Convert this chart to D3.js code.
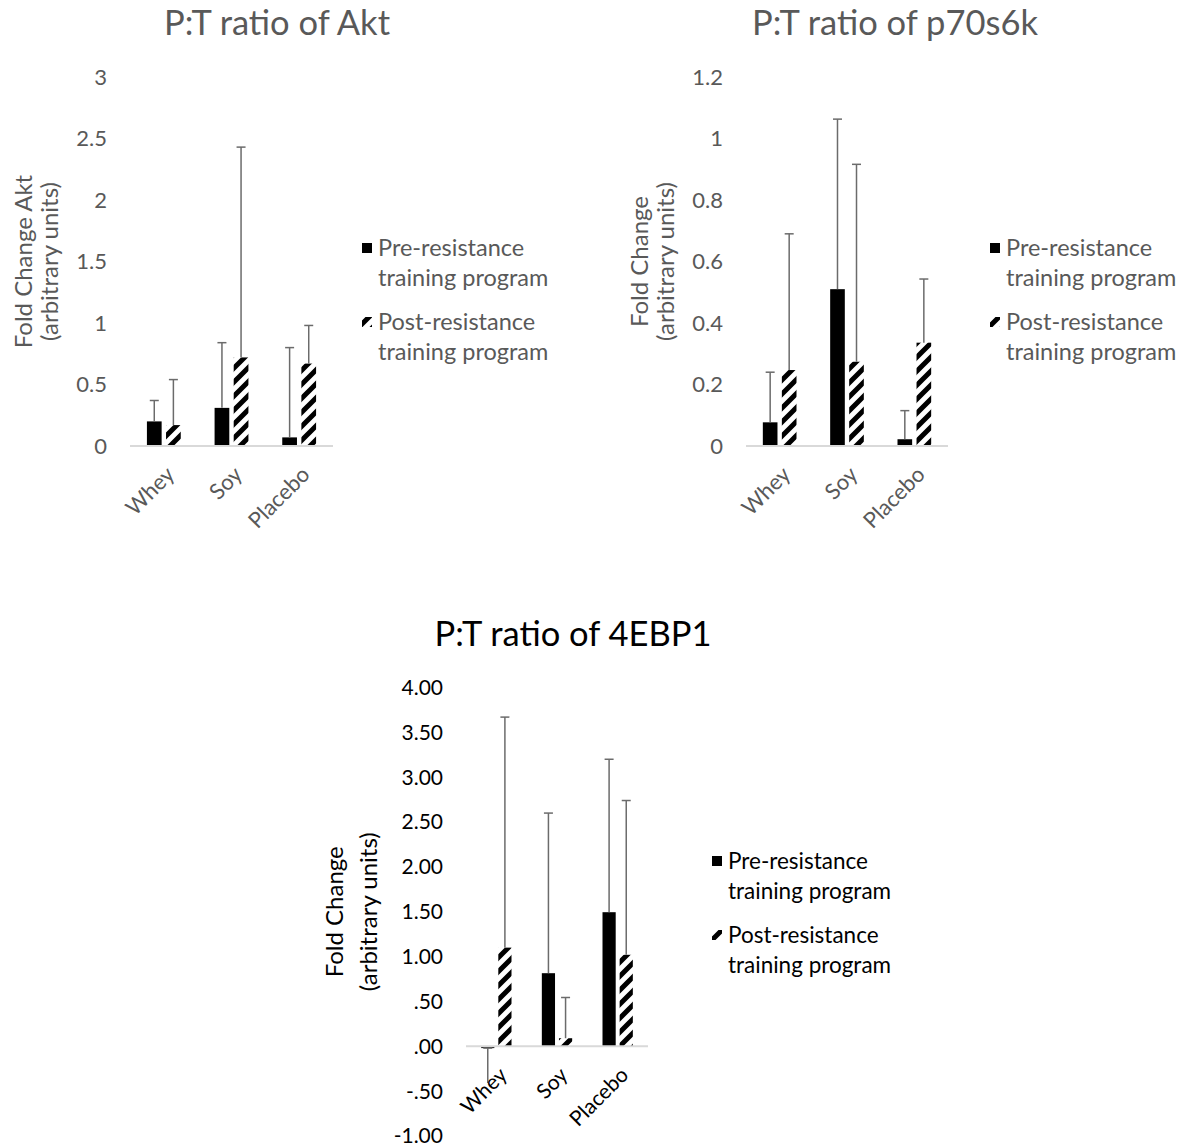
<!DOCTYPE html>
<html>
<head>
<meta charset="utf-8">
<script src="https://cdn.jsdelivr.net/npm/d3@7"></script>
<style>
  body { margin: 0; background: #fff; }
  text { font-family: Lato, "Open Sans", sans-serif; }
</style>
</head>
<body>
<div id="chart"></div>
<script>
var categories = ["Whey", "Soy", "Placebo"];
var legendLines = [["Pre-resistance", "training program"], ["Post-resistance", "training program"]];

// Akt
var aktPre = [0.20, 0.31, 0.07];
var aktPost = [0.17, 0.72, 0.67];
var aktPreSD = [0.17, 0.53, 0.73];
var aktPostSD = [0.37, 1.71, 0.31];
var aktTicks = [0, 0.5, 1, 1.5, 2, 2.5, 3];
var aktTickLabels = ["0", "0.5", "1", "1.5", "2", "2.5", "3"];

// p70s6k
var p70Pre = [0.077, 0.51, 0.022];
var p70Post = [0.247, 0.274, 0.336];
var p70PreSD = [0.163, 0.553, 0.093];
var p70PostSD = [0.443, 0.642, 0.207];
var p70Ticks = [0, 0.2, 0.4, 0.6, 0.8, 1, 1.2];
var p70TickLabels = ["0", "0.2", "0.4", "0.6", "0.8", "1", "1.2"];

// 4EBP1
var ebpPre = [-0.02, 0.815, 1.495];
var ebpPost = [1.10, 0.09, 1.02];
var ebpPreSD = [0.39, 1.785, 1.705];
var ebpPostSD = [2.57, 0.454, 1.72];
var ebpTicks = [-1, -0.5, 0, 0.5, 1, 1.5, 2, 2.5, 3, 3.5, 4];
var ebpTickLabels = ["-1.00", "-.50", ".00", ".50", "1.00", "1.50", "2.00", "2.50", "3.00", "3.50", "4.00"];

var svg = d3.select("#chart").append("svg")
    .attr("width", 1181)
    .attr("height", 1148);

var defs = svg.append("defs");
var pat = defs.append("pattern")
    .attr("id", "hatch")
    .attr("patternUnits", "userSpaceOnUse")
    .attr("width", 14)
    .attr("height", 14);
pat.append("rect").attr("width", 14).attr("height", 14).attr("fill", "#fff");
pat.append("path")
    .attr("d", "M-3.5,3.5 L3.5,-3.5 M0,14 L14,0 M10.5,17.5 L17.5,10.5")
    .attr("stroke", "#000")
    .attr("stroke-width", 5);

function drawChart(o) {
  var g = svg.append("g");
  var y = d3.scaleLinear().domain(o.domain).range([o.bottom, o.top]);
  var x0 = d3.scaleBand().domain(categories).range([o.left, o.right])
      .paddingInner(0.5).paddingOuter(0.25);
  var x1 = d3.scaleBand().domain(["pre", "post"]).range([0, x0.bandwidth()])
      .paddingInner(0.23);

  // title
  g.append("text")
      .attr("x", o.titleX).attr("y", o.titleY)
      .attr("text-anchor", "middle")
      .attr("font-size", o.titleSize)
      .attr("fill", o.color)
      .text(o.title);

  // y tick labels
  g.selectAll(".tick").data(o.ticks).enter().append("text")
      .attr("x", o.left - 23)
      .attr("y", function(d) { return y(d); })
      .attr("dy", "0.35em")
      .attr("text-anchor", "end")
      .attr("font-size", o.tickSize)
      .attr("fill", o.color)
      .text(function(d, i) { return o.tickLabels[i]; });

  // y axis title
  o.yTitle.forEach(function(t, i) {
    g.append("text")
        .attr("transform", "translate(" + o.yTitleX[i] + "," + (y(o.domain[0]) + y(o.domain[1])) / 2 + ") rotate(-90)")
        .attr("text-anchor", "middle")
        .attr("font-size", o.yTitleSize)
        .attr("fill", o.color)
        .text(t);
  });

  // bars
  var rows = [];
  categories.forEach(function(c, i) {
    rows.push({cat: c, s: "pre", v: o.pre[i], sd: o.preSD[i]});
    rows.push({cat: c, s: "post", v: o.post[i], sd: o.postSD[i]});
  });
  g.selectAll(".bar").data(rows).enter().append("rect")
      .attr("x", function(d) { return x0(d.cat) + x1(d.s); })
      .attr("y", function(d) { return y(Math.max(d.v, 0)); })
      .attr("width", x1.bandwidth())
      .attr("height", function(d) { return Math.abs(y(d.v) - y(0)); })
      .attr("fill", function(d) { return d.s == "pre" ? "#000" : "url(#hatch)"; });

  // baseline
  g.append("line")
      .attr("x1", o.left).attr("x2", o.right)
      .attr("y1", y(0)).attr("y2", y(0))
      .attr("stroke", "#d9d9d9").attr("stroke-width", 2);

  // error bars
  rows.forEach(function(d) {
    var cx = x0(d.cat) + x1(d.s) + x1.bandwidth() / 2;
    var end = d.v + (d.v < 0 ? -d.sd : d.sd);
    var capY = y(Math.max(d.v, end));
    g.append("line")
        .attr("x1", cx).attr("x2", cx)
        .attr("y1", y(d.v)).attr("y2", y(end))
        .attr("stroke", "#6b6b6b").attr("stroke-width", 1.5);
    g.append("line")
        .attr("x1", cx - 4.5).attr("x2", cx + 4.5)
        .attr("y1", capY).attr("y2", capY)
        .attr("stroke", "#6b6b6b").attr("stroke-width", 1.5);
  });

  // x labels
  categories.forEach(function(c) {
    var cx = x0(c) + x0.bandwidth() / 2;
    g.append("text")
        .attr("transform", "translate(" + (cx + 12) + "," + (y(0) + 30) + ") rotate(-45)")
        .attr("text-anchor", "end")
        .attr("font-size", o.tickSize)
        .attr("fill", o.color)
        .text(c);
  });

  // legend
  var lg = g.append("g");
  legendLines.forEach(function(lines, i) {
    var top = o.legendY + i * o.legendGap;
    lg.append("rect")
        .attr("x", o.legendX).attr("y", top - 13)
        .attr("width", 10).attr("height", 10)
        .attr("fill", i == 0 ? "#000" : "url(#hatch)");
    lines.forEach(function(t, j) {
      lg.append("text")
          .attr("x", o.legendX + 16)
          .attr("y", top + j * 30)
          .attr("font-size", o.legendSize)
          .attr("fill", o.color)
          .text(t);
    });
  });
}

drawChart({
  title: "P:T ratio of Akt", titleX: 277, titleY: 35, titleSize: 34.5,
  yTitle: ["Fold Change Akt", "(arbitrary units)"], yTitleX: [32, 58], yTitleSize: 24,
  pre: aktPre, post: aktPost, preSD: aktPreSD, postSD: aktPostSD,
  domain: [0, 3], ticks: aktTicks, tickLabels: aktTickLabels,
  left: 130, right: 333, top: 77, bottom: 446,
  tickSize: 22, color: "#595959",
  legendX: 362, legendY: 256, legendGap: 74, legendSize: 23.5
});

drawChart({
  title: "P:T ratio of p70s6k", titleX: 895, titleY: 35, titleSize: 34.5,
  yTitle: ["Fold Change", "(arbitrary units)"], yTitleX: [648, 674], yTitleSize: 24,
  pre: p70Pre, post: p70Post, preSD: p70PreSD, postSD: p70PostSD,
  domain: [0, 1.2], ticks: p70Ticks, tickLabels: p70TickLabels,
  left: 746, right: 948, top: 77, bottom: 446,
  tickSize: 22, color: "#595959",
  legendX: 990, legendY: 256, legendGap: 74, legendSize: 23.5
});

drawChart({
  title: "P:T ratio of 4EBP1", titleX: 573, titleY: 646, titleSize: 34.5,
  yTitle: ["Fold Change", "(arbitrary units)"], yTitleX: [343, 377], yTitleSize: 24,
  pre: ebpPre, post: ebpPost, preSD: ebpPreSD, postSD: ebpPostSD,
  domain: [-1, 4], ticks: ebpTicks, tickLabels: ebpTickLabels,
  left: 466, right: 648, top: 687.5, bottom: 1136,
  tickSize: 21, color: "#000",
  legendX: 712, legendY: 869, legendGap: 74, legendSize: 22.5
});
</script>
</body>
</html>
